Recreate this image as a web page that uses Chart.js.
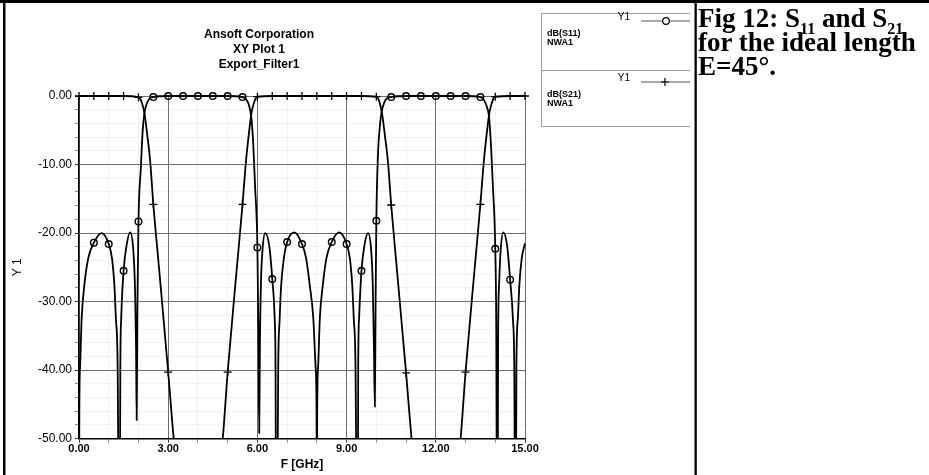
<!DOCTYPE html>
<html>
<head>
<meta charset="utf-8">
<script src="https://cdn.jsdelivr.net/npm/chart.js@4.4.1/dist/chart.umd.min.js"></script>
<style>
  html, body { margin: 0; padding: 0; background: #fff; }
  body { width: 929px; height: 475px; position: relative; overflow: hidden; }
  #plot { position: absolute; left: 0; top: 0; }
  #caption {
    position: absolute; left: 698px; top: 6px;
    font-family: "Liberation Serif", "Times New Roman", serif;
    font-weight: bold; font-size: 27px; line-height: 24px;
    color: #000; white-space: nowrap;
  }
  #caption sub { font-size: 16px; vertical-align: -7px; line-height: 0; }
</style>
</head>
<body>
<canvas id="plot" width="929" height="475"></canvas>
<div id="caption">Fig 12: S<sub>11</sub> and S<sub>21</sub><br>for the ideal length<br>E=45°.</div>
<script>
// Frequency axis in GHz, levels in dB
const s11Freq = [
  0, 0.01, 0.035, 0.09, 0.18, 0.31, 0.5, 0.76, 1.0, 1.11, 1.19, 1.24, 1.30, 1.36,
  1.39, 1.42, 1.5, 1.6, 1.72, 1.83, 1.88, 1.92, 1.94, 1.965, 2.0, 2.08, 2.14, 2.2, 2.28, 2.38,
  2.5, 3.0, 3.5, 4.0, 4.5, 5.0, 5.5,
  5.62, 5.72, 5.8, 5.86, 5.92, 6.0, 6.035, 6.06, 6.085, 6.12, 6.17, 6.26, 6.4, 6.5, 6.58, 6.61, 6.64,
  6.70, 6.75, 6.80, 6.89, 7.0, 7.24, 7.5, 7.64, 7.76, 7.88, 7.96, 7.99, 8.0,
  8.01, 8.04, 8.10, 8.2, 8.32, 8.5, 8.75, 9.0, 9.11, 9.19, 9.24, 9.30, 9.37,
  9.39, 9.42, 9.5, 9.6, 9.72, 9.83, 9.88, 9.92, 9.95, 9.975, 10.0, 10.06, 10.11, 10.17, 10.28, 10.38,
  10.5, 11.0, 11.5, 12.0, 12.5, 13.0, 13.5,
  13.62, 13.72, 13.79, 13.86, 13.93, 14.0, 14.035, 14.07, 14.095, 14.13, 14.18, 14.27, 14.4, 14.5, 14.6, 14.64, 14.68,
  14.71, 14.76, 14.81, 14.89, 15.0
];
const s11dB = [
  -80, -47, -39.7, -32.4, -27.6, -23.7, -21.4, -20.0, -21.6, -23.7, -27.6, -32.4, -39.7, -80,
  -39.7, -32.4, -25.5, -21.8, -19.9, -22.7, -27.6, -37.3, -47.3, -30.5, -18.3, -10.5, -5.2, -2.5, -1.1, -0.35,
  -0.15, 0, 0, 0, 0, 0, -0.15,
  -0.5, -1.4, -3.3, -7.0, -13.0, -22.1, -35, -49.2, -36, -27.2, -22.6, -20.0, -21.9, -26.7, -32.4, -39.7, -80,
  -39.7, -32.4, -27.6, -23.7, -21.3, -19.9, -21.6, -23.7, -27.6, -32.4, -39.7, -47, -80,
  -47, -39.7, -32.4, -27.6, -23.7, -21.3, -19.9, -21.6, -23.7, -27.6, -32.4, -39.7, -80,
  -39.7, -32.4, -25.5, -21.8, -20.0, -22.7, -27.6, -37, -45.3, -30, -18.2, -8.1, -4.8, -2.5, -0.8, -0.3,
  -0.15, 0, 0, 0, 0, 0, -0.15,
  -0.6, -1.6, -3.0, -7.5, -14, -22.3, -35, -80, -36, -27.4, -22.6, -19.9, -21.9, -26.8, -33, -40, -80,
  -39.7, -32.4, -27.6, -23.7, -21.5
];
const s11MarkFreq = [0.5, 1, 1.5, 2, 2.5, 3, 3.5, 4, 4.5, 5, 5.5, 6, 6.5, 7, 7.5,
  8.5, 9, 9.5, 10, 10.5, 11, 11.5, 12, 12.5, 13, 13.5, 14, 14.5];

const s21Freq = [
  0, 0.5, 1.0, 1.5, 2.0, 2.1, 2.2, 2.31, 2.39, 2.5, 2.7, 3.0, 3.19, 3.5, 4.0, 4.5, 4.83, 5.0, 5.3, 5.5,
  5.62, 5.7, 5.8, 5.9, 6.0, 6.5, 7.0, 7.5, 8.0, 8.5, 9.0, 9.5, 10.0,
  10.1, 10.2, 10.3, 10.39, 10.5, 10.7, 11.0, 11.19, 11.5, 12.0, 12.5, 12.83, 13.0, 13.3, 13.5,
  13.62, 13.7, 13.8, 13.9, 14.0, 14.5, 15.0
];
const s21dB = [
  0, 0, 0, 0, -0.2, -0.8, -2.5, -6.2, -9.3, -15.8, -25.5, -40.3, -50.2, -62, -70, -62, -50.2, -40.3, -25.5, -15.8,
  -9.3, -6.0, -2.5, -0.8, -0.1, 0, 0, 0, 0, 0, 0, 0, -0.1,
  -0.8, -2.8, -6.2, -9.5, -15.9, -25.7, -40.4, -50.2, -62, -70, -62, -50.2, -40.3, -25.5, -15.8,
  -9.3, -6.0, -2.5, -0.8, -0.1, 0, 0
];
const s21MarkFreq = [0, 0.5, 1, 1.5, 2, 2.5, 3, 3.5, 4, 4.5, 5, 5.5, 6, 6.5, 7, 7.5, 8,
  8.5, 9, 9.5, 10, 10.5, 11, 11.5, 12, 12.5, 13, 13.5, 14, 14.5, 15];

const titleLines = ['Ansoft Corporation', 'XY Plot 1', 'Export_Filter1'];
const xLabelStep = 3;    // GHz between labelled ticks
const yLabelStep = 10;   // dB between labelled ticks

const toPoints = (fs, vs) => fs.map((f, i) => ({ x: f, y: vs[i] }));
const isMark = (list, v) => list.some(m => Math.abs(m - v) < 1e-6);
const isMultiple = (v, step) => Math.abs(v / step - Math.round(v / step)) < 1e-6;

const SANS = "'Liberation Sans', Arial, sans-serif";
Chart.defaults.font.family = SANS;
Chart.defaults.color = '#000';

// Page frame, plot heading and the trace key box
const decorations = {
  id: 'decorations',
  afterDraw(chart) {
    const ctx = chart.ctx;
    ctx.save();
    ctx.fillStyle = '#000';
    ctx.fillRect(0, 0, 929, 3);
    ctx.fillRect(3, 0, 2.5, 475);
    ctx.fillRect(694.5, 0, 2.3, 475);

    ctx.font = 'bold 12px ' + SANS;
    ctx.textAlign = 'center';
    ctx.textBaseline = 'middle';
    titleLines.forEach((t, i) => ctx.fillText(t, 259, 34.5 + i * 15));

    // key box
    ctx.strokeStyle = '#9a9a9a';
    ctx.lineWidth = 1;
    ctx.beginPath();
    ctx.moveTo(690, 13.5); ctx.lineTo(541.5, 13.5); ctx.lineTo(541.5, 126.5); ctx.lineTo(690, 126.5);
    ctx.moveTo(541.5, 70.5); ctx.lineTo(690, 70.5);
    ctx.stroke();

    const entries = [
      { y: 17.5, label: chart.data.datasets[0].label, mark: 'circle' },
      { y: 78.5, label: chart.data.datasets[1].label, mark: 'cross' }
    ];
    entries.forEach(e => {
      ctx.fillStyle = '#000';
      ctx.font = '10px ' + SANS;
      ctx.textAlign = 'right';
      ctx.textBaseline = 'middle';
      ctx.fillText('Y1', 630, e.y);
      ctx.strokeStyle = '#555';
      ctx.lineWidth = 1;
      ctx.beginPath();
      ctx.moveTo(641, e.y + 3.5); ctx.lineTo(690, e.y + 3.5);
      ctx.stroke();
      ctx.strokeStyle = '#000';
      ctx.lineWidth = 1.2;
      ctx.beginPath();
      if (e.mark === 'circle') {
        ctx.fillStyle = '#fff';
        ctx.arc(666, e.y + 3.5, 3.3, 0, Math.PI * 2);
        ctx.fill();
      } else {
        ctx.moveTo(665, e.y - 0.5); ctx.lineTo(665, e.y + 7.5);
        ctx.moveTo(661, e.y + 3.5); ctx.lineTo(669, e.y + 3.5);
      }
      ctx.stroke();
      ctx.fillStyle = '#000';
      ctx.font = 'bold 9px ' + SANS;
      ctx.textAlign = 'left';
      ctx.fillText(e.label, 547, e.y + 16.5);
      ctx.fillText('NWA1', 547, e.y + 25);
    });
    ctx.restore();
  }
};

new Chart(document.getElementById('plot'), {
  type: 'scatter',
  data: {
    datasets: [
      {
        label: 'dB(S11)',
        data: toPoints(s11Freq, s11dB),
        showLine: true,
        borderColor: '#000',
        borderWidth: 1.8,
        cubicInterpolationMode: 'monotone',
        pointStyle: 'circle',
        pointRadius: c => (c.raw && isMark(s11MarkFreq, c.raw.x)) ? 3.3 : 0,
        pointBorderWidth: 1.4,
        pointBorderColor: '#000',
        pointBackgroundColor: 'rgba(0,0,0,0)',
        clip: { left: 6, right: 6, top: 6, bottom: 0 }
      },
      {
        label: 'dB(S21)',
        data: toPoints(s21Freq, s21dB),
        showLine: true,
        borderColor: '#000',
        borderWidth: 1.8,
        cubicInterpolationMode: 'monotone',
        pointStyle: 'cross',
        pointRadius: c => (c.raw && isMark(s21MarkFreq, c.raw.x)) ? 4 : 0,
        pointBorderWidth: 1.3,
        pointBorderColor: '#000',
        clip: { left: 6, right: 6, top: 6, bottom: 0 }
      }
    ]
  },
  options: {
    responsive: false,
    animation: false,
    devicePixelRatio: 1,
    layout: { padding: { left: 0, top: 96, right: 404, bottom: 0 } },
    plugins: { legend: { display: false }, tooltip: { enabled: false }, title: { display: false } },
    scales: {
      x: {
        type: 'linear', min: 0, max: 15,
        afterFit: s => { s.height = 36.3; },
        ticks: {
          stepSize: 1, autoSkip: false, maxRotation: 0, padding: 0,
          font: { size: 11, weight: 'bold' },
          callback: v => isMultiple(v, xLabelStep) ? Number(v).toFixed(2) : ''
        },
        grid: {
          color: c => isMultiple(c.tick.value, xLabelStep) ? '#6e6e6e' : 'rgba(0,0,0,0.05)',
          lineWidth: 1,
          tickColor: c => isMultiple(c.tick.value, xLabelStep) ? '#333' : '#888',
          tickLength: 4
        },
        border: { color: '#000', width: 1.5 },
        title: { display: true, text: 'F [GHz]', font: { size: 12, weight: 'bold' }, padding: { top: 0, bottom: 3 } }
      },
      y: {
        type: 'linear', min: -50, max: 0,
        afterFit: s => { s.width = 79; },
        ticks: {
          stepSize: 2, autoSkip: false, padding: 3,
          font: { size: 12 },
          callback: v => isMultiple(v, yLabelStep) ? Number(v).toFixed(2) : ''
        },
        grid: {
          color: c => isMultiple(c.tick.value, yLabelStep) ? '#6e6e6e' : 'rgba(0,0,0,0.05)',
          lineWidth: 1,
          tickColor: c => isMultiple(c.tick.value, yLabelStep) ? '#333' : '#888',
          tickLength: 4
        },
        border: { color: '#000', width: 1.5 },
        title: { display: true, text: 'Y 1', font: { size: 12 }, padding: { top: 10, bottom: 0 } }
      }
    }
  },
  plugins: [decorations]
});
</script>
</body>
</html>
